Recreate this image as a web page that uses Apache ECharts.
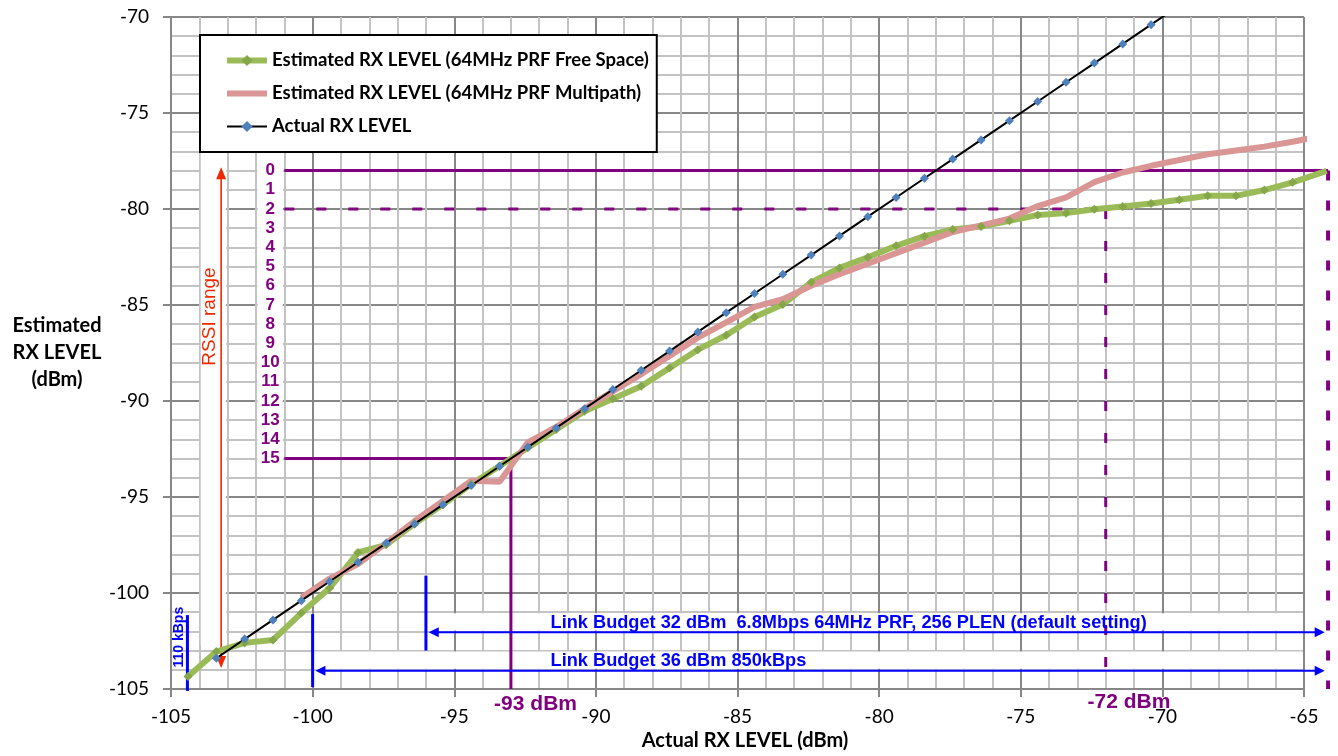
<!DOCTYPE html>
<html>
<head>
<meta charset="utf-8">
<script src="https://cdn.jsdelivr.net/npm/echarts/dist/echarts.min.js"></script>
<style>
html,body{margin:0;padding:0;background:#fff;}
#c{width:1338px;height:756px;}
</style>
</head>
<body>
<div id="c"></div>
<script>
// ---------------- DATA ----------------
const seriesNames = [
  'Estimated RX LEVEL (64MHz PRF Free Space)',
  'Estimated RX LEVEL (64MHz PRF Multipath)',
  'Actual RX LEVEL'
];

const actualX = [-103.4,-102.4,-101.4,-100.4,-99.4,-98.4,-97.4,-96.4,-95.4,-94.4,-93.4,-92.4,-91.4,-90.4,-89.4,-88.4,-87.4,-86.4,-85.4,-84.4,-83.4,-82.4,-81.4,-80.4,-79.4,-78.4,-77.4,-76.4,-75.4,-74.4,-73.4,-72.4,-71.4,-70.4,-69.4];
const actualY = [-103.4,-102.4,-101.4,-100.4,-99.4,-98.4,-97.4,-96.4,-95.4,-94.4,-93.4,-92.4,-91.4,-90.4,-89.4,-88.4,-87.4,-86.4,-85.4,-84.4,-83.4,-82.4,-81.4,-80.4,-79.4,-78.4,-77.4,-76.4,-75.4,-74.4,-73.4,-72.4,-71.4,-70.4,-69.4];

const freeSpaceX = [-104.4,-103.4,-102.4,-101.4,-100.4,-99.4,-98.4,-97.4,-96.4,-95.4,-94.4,-93.4,-92.4,-91.4,-90.4,-89.4,-88.4,-87.4,-86.4,-85.4,-84.4,-83.4,-82.4,-81.4,-80.4,-79.4,-78.4,-77.4,-76.4,-75.4,-74.4,-73.4,-72.4,-71.4,-70.4,-69.4,-68.4,-67.4,-66.4,-65.4,-64.2];
const freeSpaceY = [-104.3,-103.0,-102.55,-102.4,-101.0,-99.7,-97.85,-97.45,-96.35,-95.35,-94.3,-93.35,-92.4,-91.45,-90.5,-89.85,-89.2,-88.25,-87.3,-86.55,-85.6,-84.95,-83.8,-83.05,-82.5,-81.9,-81.4,-81.05,-80.9,-80.6,-80.3,-80.2,-80.0,-79.85,-79.7,-79.5,-79.3,-79.3,-79.0,-78.6,-78.0];

const multipathX = [-100.4,-99.4,-98.4,-97.4,-96.4,-95.4,-94.4,-93.4,-92.4,-91.4,-90.4,-89.4,-88.4,-87.4,-86.4,-85.4,-84.4,-83.4,-82.4,-81.4,-80.4,-79.4,-78.4,-77.4,-76.4,-75.4,-74.4,-73.4,-72.4,-71.4,-70.4,-69.4,-68.4,-67.4,-66.4,-65.4,-64.4];
const multipathY = [-100.25,-99.25,-98.5,-97.4,-96.25,-95.2,-94.15,-94.2,-92.15,-91.35,-90.4,-89.5,-88.6,-87.65,-86.7,-85.9,-85.1,-84.7,-84.0,-83.4,-82.85,-82.3,-81.75,-81.2,-80.85,-80.5,-79.85,-79.4,-78.6,-78.1,-77.75,-77.45,-77.15,-76.95,-76.75,-76.5,-76.2];

const rssiLabels = ['0','1','2','3','4','5','6','7','8','9','10','11','12','13','14','15'];
const rssiLevels = [-78,-79,-80,-81,-82,-83,-84,-85,-86,-87,-88,-89,-90,-91,-92,-93];

const budgetTexts = [
  'Link Budget 32 dBm  6.8Mbps 64MHz PRF, 256 PLEN (default setting)',
  'Link Budget 36 dBm 850kBps'
];

// ---------------- STYLE ----------------
const FONT = 'Lato, "Open Sans", sans-serif';
const ARIAL = '"Liberation Sans", Arial, sans-serif';
const PURPLE = '#800080';
const BLUE = '#0000ff';
const RED = '#f02800';
const MAJOR = '#878787';
const MINOR = '#c3c3c3';
const GREEN = '#9BBB59', GREEN_MARK = '#85A649', PINK = '#D99694', BLUE_MARK = '#4F81BD';

// plot geometry: x -105..-65 on the main grid; a twin hidden grid with the same
// pixel scale reaches -64.2 so the free-space trace can run past the frame edge.
const GRID_LEFT = 171, GRID_RIGHT = 34, GRID_TOP = 17, GRID_BOTTOM = 66, CHART_W = 1338;
const X_MIN = -105, X_MAX = -65, X_MAX_EXT = -64.2;
const pxPerUnit = (CHART_W - GRID_LEFT - GRID_RIGHT) / (X_MAX - X_MIN);
const GRID_RIGHT_EXT = CHART_W - GRID_LEFT - pxPerUnit * (X_MAX_EXT - X_MIN);

function pairs(xs, ys) { return xs.map((x, i) => [x, ys[i]]); }

const freeData = pairs(freeSpaceX, freeSpaceY).map((p, i, arr) =>
  i === arr.length - 1 ? { value: p, symbol: 'none' } : p);

function renderAnno(params, api) {
  const P = (x, y) => api.coord([x, y]);
  const ch = [];
  function rect(x1, y1, x2, y2) {
    const a = P(x1, y1), b = P(x2, y2);
    ch.push({ type: 'rect', shape: { x: Math.min(a[0], b[0]), y: Math.min(a[1], b[1]),
      width: Math.abs(b[0] - a[0]), height: Math.abs(b[1] - a[1]) }, style: { fill: '#fff' } });
  }
  function line(x1, y1, x2, y2, color, w, dash) {
    const a = P(x1, y1), b = P(x2, y2);
    ch.push({ type: 'line', shape: { x1: a[0], y1: a[1], x2: b[0], y2: b[1] },
      style: { stroke: color, lineWidth: w, lineDash: dash || null, fill: null } });
  }
  function head(x, y, dir, color, len, half) {
    const t = P(x, y); let pts;
    if (dir === 'l') pts = [[t[0], t[1]], [t[0] + len, t[1] - half], [t[0] + len, t[1] + half]];
    if (dir === 'r') pts = [[t[0], t[1]], [t[0] - len, t[1] - half], [t[0] - len, t[1] + half]];
    if (dir === 'u') pts = [[t[0], t[1]], [t[0] - half, t[1] + len], [t[0] + half, t[1] + len]];
    if (dir === 'd') pts = [[t[0], t[1]], [t[0] - half, t[1] - len], [t[0] + half, t[1] - len]];
    ch.push({ type: 'polygon', shape: { points: pts }, style: { fill: color } });
  }
  function text(x, y, str, color, font, align, rot) {
    const a = P(x, y);
    ch.push({ type: 'text', x: a[0], y: a[1], rotation: rot || 0,
      style: { text: str, fill: color, font: font, align: align || 'center', verticalAlign: 'middle' } });
  }
  // white masks
  rect(-103.95, -76.5, -103.05, -102.75);
  rect(-101.95, -76.5, -101.05, -93.6);
  rect(-96, -101.05, -65.05, -101.95);
  rect(-100, -103.05, -65.05, -103.95);

  // purple RSSI lines
  line(-101, -78, -64.15, -78, PURPLE, 3);
  line(-101, -80, -72, -80, PURPLE, 3, [10, 22]);
  line(-72, -80, -72, -104.8, PURPLE, 3, [10, 22]);
  line(-64.15, -78, -64.15, -105, PURPLE, 4, [10, 20]);
  line(-101, -93, -93, -93, PURPLE, 3);
  line(-93, -93, -93, -105, PURPLE, 3);
  rssiLabels.forEach((s, i) => text(-101.5, rssiLevels[i], s, PURPLE, 'bold 17px ' + ARIAL));
  text(-92.13, -105.78, '-93 dBm', PURPLE, 'bold 21px ' + ARIAL);
  text(-71.18, -105.71, '-72 dBm', PURPLE, 'bold 21px ' + ARIAL);

  // RSSI range arrow
  line(-103.23, -78.3, -103.23, -103.4, RED, 1.6);
  head(-103.23, -77.82, 'u', RED, 12, 5);
  head(-103.23, -103.9, 'd', RED, 12, 5);
  text(-103.62, -85.6, 'RSSI range', RED, '19px ' + ARIAL, 'center', Math.PI / 2);

  // blue link budget annotations
  line(-104.42, -101.15, -104.42, -105.1, BLUE, 3);
  text(-104.73, -102.3, '110 kBps', BLUE, 'bold 14px ' + ARIAL, 'center', Math.PI / 2);
  line(-96, -99.1, -96, -103, BLUE, 3);
  line(-100, -101.1, -100, -104.9, BLUE, 3);
  line(-95.7, -102.05, -64.6, -102.05, BLUE, 2);
  head(-95.9, -102.05, 'l', BLUE, 10, 5);
  head(-64.27, -102.05, 'r', BLUE, 10, 5);
  line(-99.7, -104.05, -64.6, -104.05, BLUE, 2);
  head(-99.9, -104.05, 'l', BLUE, 10, 5);
  head(-64.27, -104.05, 'r', BLUE, 10, 5);
  text(-91.6, -101.58, budgetTexts[0], BLUE, 'bold 18.2px ' + ARIAL, 'left');
  text(-91.6, -103.52, budgetTexts[1], BLUE, 'bold 18.2px ' + ARIAL, 'left');

  return { type: 'group', children: ch };
}

const chart = echarts.init(document.getElementById('c'), null, { renderer: 'canvas' });
const axisCommon = {
  type: 'value',
  axisLine: { show: true, onZero: false, lineStyle: { color: MAJOR, width: 2 } },
  axisTick: { show: true, length: 8, lineStyle: { color: MAJOR, width: 2 } },
  splitLine: { show: true, lineStyle: { color: MAJOR, width: 2 } },
  minorTick: { show: false, splitNumber: 5 },
  minorSplitLine: { show: true, lineStyle: { color: MINOR, width: 2 } }
};
const hiddenAxis = {
  type: 'value', show: false,
  axisLine: { show: false }, axisTick: { show: false }, axisLabel: { show: false },
  splitLine: { show: false }, minorSplitLine: { show: false }
};
chart.setOption({
  animation: false,
  backgroundColor: '#fff',
  grid: [
    { left: GRID_LEFT, right: GRID_RIGHT, top: GRID_TOP, bottom: GRID_BOTTOM, containLabel: false },
    { left: GRID_LEFT, right: GRID_RIGHT_EXT, top: GRID_TOP, bottom: GRID_BOTTOM, containLabel: false }
  ],
  legend: {
    data: [
      { name: seriesNames[0], lineStyle: { color: GREEN, width: 6 }, itemStyle: { color: GREEN_MARK } },
      { name: seriesNames[1], lineStyle: { color: PINK, width: 6 }, itemStyle: { opacity: 0 } },
      { name: seriesNames[2], lineStyle: { color: '#000', width: 2 }, itemStyle: { color: BLUE_MARK } }
    ],
    orient: 'vertical',
    left: 200, top: 35,
    backgroundColor: '#fff',
    borderColor: '#000', borderWidth: 2, borderRadius: 0,
    padding: [16, 8, 16, 24],
    itemGap: 14, itemWidth: 40, itemHeight: 14,
    textStyle: { fontFamily: FONT, fontWeight: 'bold', fontSize: 18.5, color: '#000' }
  },
  xAxis: [
    Object.assign({}, axisCommon, {
      gridIndex: 0, min: X_MIN, max: X_MAX, interval: 5,
      name: 'Actual RX LEVEL (dBm)', nameLocation: 'middle', nameGap: 42,
      nameTextStyle: { fontFamily: FONT, fontSize: 20, fontWeight: 'bold', color: '#000', padding: [0, 0, 0, 15] },
      axisLabel: { margin: 18, fontFamily: FONT, fontSize: 19, color: '#000' }
    }),
    Object.assign({}, hiddenAxis, { gridIndex: 1, min: X_MIN, max: X_MAX_EXT })
  ],
  yAxis: [
    Object.assign({}, axisCommon, {
      gridIndex: 0, min: -105, max: -70, interval: 5,
      name: 'Estimated\nRX LEVEL\n(dBm)', nameLocation: 'middle', nameGap: 114, nameRotate: 0,
      nameTextStyle: { fontFamily: FONT, fontSize: 20, fontWeight: 'bold', color: '#000', lineHeight: 27,
        align: 'center', verticalAlign: 'middle', padding: [0, 0, 86, 0] },
      axisLabel: { margin: 22, fontFamily: FONT, fontSize: 19, color: '#000' }
    }),
    Object.assign({}, hiddenAxis, { gridIndex: 1, min: -105, max: -70 })
  ],
  series: [
    {
      type: 'custom', name: 'annotations', silent: true, z: 1,
      xAxisIndex: 0, yAxisIndex: 0,
      data: [[-85, -85]], renderItem: renderAnno, clip: false
    },
    {
      name: seriesNames[0], type: 'line', data: freeData,
      xAxisIndex: 1, yAxisIndex: 1,
      symbol: 'diamond', symbolSize: 9, z: 2,
      lineStyle: { color: GREEN, width: 6 },
      itemStyle: { color: GREEN_MARK }
    },
    {
      name: seriesNames[1], type: 'line', data: pairs(multipathX, multipathY),
      xAxisIndex: 0, yAxisIndex: 0,
      symbol: 'none', z: 2,
      lineStyle: { color: PINK, width: 6 },
      itemStyle: { color: PINK }
    },
    {
      name: seriesNames[2], type: 'line', data: pairs(actualX, actualY),
      xAxisIndex: 0, yAxisIndex: 0,
      symbol: 'diamond', symbolSize: 9, z: 2,
      lineStyle: { color: '#000', width: 2 },
      itemStyle: { color: BLUE_MARK }
    }
  ]
});
</script>
</body>
</html>
